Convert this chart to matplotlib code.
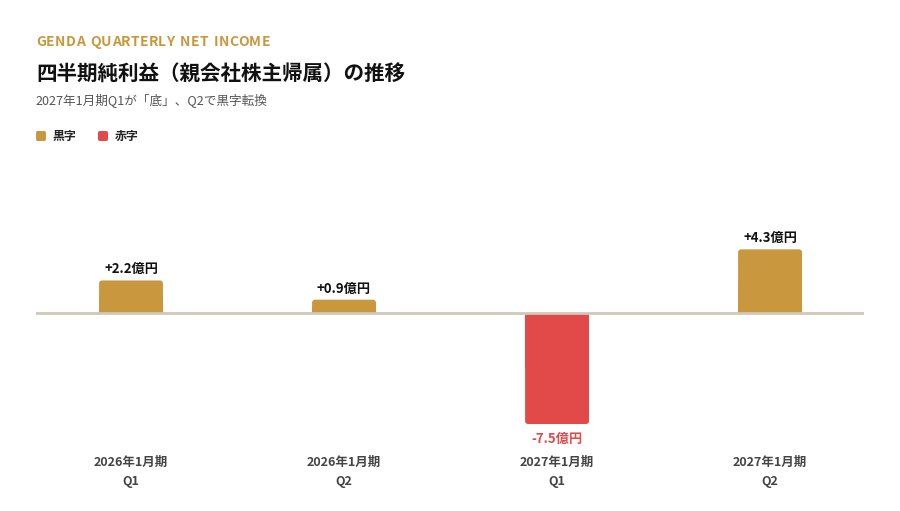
import matplotlib.pyplot as plt
from matplotlib.patches import FancyBboxPatch, Rectangle

plt.rcParams['font.family'] = ['Noto Sans CJK JP', 'DejaVu Sans']

# データ（億円）
periods = ['2026年1月期', '2026年1月期', '2027年1月期', '2027年1月期']
quarters = ['Q1', 'Q2', 'Q1', 'Q2']
net_income = [2.2, 0.9, -7.5, 4.3]
value_labels = ['+2.2億円', '+0.9億円', '-7.5億円', '+4.3億円']
legend_labels = ['黒字', '赤字']

gold = '#C9983E'
red = '#E24A4A'
colors = [gold if v >= 0 else red for v in net_income]

W, H = 900, 511
fig = plt.figure(figsize=(9, 5.11), dpi=100)

# 軸の位置はピクセルで決める
ppu = 14.8  # 1億円あたりのピクセル
ax_top, ax_bot = 220, 430
ax = fig.add_axes([36 / W, 1 - ax_bot / H, (864 - 36) / W, (ax_bot - ax_top) / H])
ax.set_xlim(-0.446, 3.441)
ax.set_ylim(-(ax_bot - 313) / ppu, (313 - ax_top) / ppu)
ax.axis('off')

x = range(len(net_income))
bars = ax.bar(x, net_income, width=0.30, color=colors, zorder=2)

# 角丸にする（先端側だけ）
rx = 3 / 213.0
for b, c in zip(bars, colors):
    bx, by, bw, bh = b.get_x(), b.get_y(), b.get_width(), b.get_height()
    b.set_visible(False)
    y0, y1 = min(by, by + bh), max(by, by + bh)
    ax.add_patch(FancyBboxPatch((bx, y0), bw, y1 - y0,
                                boxstyle=f'round,pad=0,rounding_size={rx}',
                                mutation_aspect=213 / ppu, fc=c, ec='none', zorder=2))
    # 基線側は角を出さない
    hh = (y1 - y0) / 2
    ys = 0 if bh >= 0 else -hh
    ax.add_patch(Rectangle((bx, ys), bw, hh, fc=c, ec='none', zorder=2))

ax.axhline(0, color='#CFC9B9', lw=2, zorder=3)

for i, v in enumerate(net_income):
    if v >= 0:
        ax.annotate(value_labels[i], (i, v), xytext=(0, 3), textcoords='offset points',
                    ha='center', va='bottom', fontsize=9.5, fontweight='bold', color='#111111')
    else:
        ax.annotate(value_labels[i], (i, v), xytext=(0, -6), textcoords='offset points',
                    ha='center', va='top', fontsize=9.5, fontweight='bold', color=red)
    # カテゴリラベル
    ax.text(i, -(462 - 313) / ppu, periods[i], ha='center', va='center',
            fontsize=9, fontweight='bold', color='#444444')
    ax.text(i, -(481 - 313) / ppu, quarters[i], ha='center', va='center',
            fontsize=9, fontweight='bold', color='#444444')

# 英字見出し（字間をあける）
eyebrow = 'GENDA QUARTERLY NET INCOME'
fig.canvas.draw()
renderer = fig.canvas.get_renderer()
cx = 36.0
for ch in eyebrow:
    t = fig.text(cx / W, 1 - 42 / H, ch, fontsize=10, fontweight='bold',
                 color=gold, va='center', ha='left')
    w = t.get_window_extent(renderer).width if ch != ' ' else 5.0
    cx += w + 0.25

fig.text(36 / W, 1 - 73 / H, '四半期純利益（親会社株主帰属）の推移', fontsize=14.8,
         fontweight='bold', color='#111111', va='center', ha='left')
fig.text(36 / W, 1 - 101 / H, '2027年1月期Q1が「底」、Q2で黒字転換', fontsize=9.1,
         color='#555555', va='center', ha='left')

# 凡例
for lx, lab, c in [(36, legend_labels[0], gold), (98, legend_labels[1], red)]:
    fig.patches.append(FancyBboxPatch((lx / W, 1 - 141 / H), 10 / W, 10 / H,
                                      boxstyle='round,pad=0,rounding_size=0.002',
                                      mutation_aspect=W / H,
                                      transform=fig.transFigure, fc=c, ec='none'))
    fig.text((lx + 17) / W, 1 - 136 / H, lab, fontsize=8.6, fontweight='bold',
             color='#222222', va='center', ha='left')

fig.savefig('out.png', dpi=100, facecolor='white')
